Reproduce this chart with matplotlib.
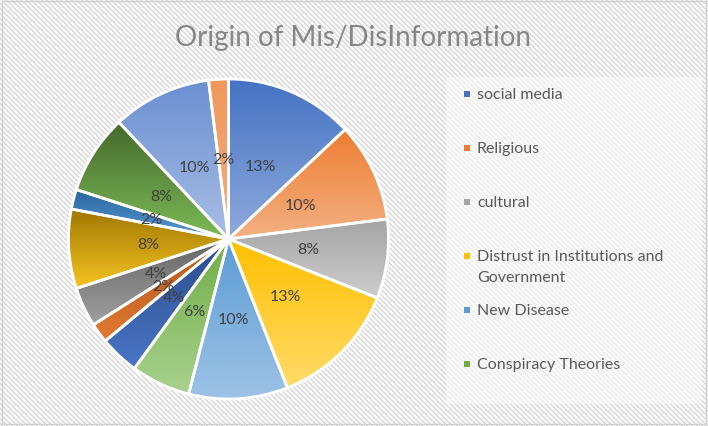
import numpy as np
import matplotlib
matplotlib.use("Agg")
import matplotlib.pyplot as plt
from matplotlib.patches import Rectangle
from matplotlib.colors import to_rgb

# ---- data ----
categories = ["social media", "Religious", "cultural",
              "Distrust in Institutions and\nGovernment", "New Disease",
              "Conspiracy Theories", "Other 7", "Other 8", "Other 9",
              "Other 10", "Other 11", "Other 12", "Other 13", "Other 14"]
values = [13, 10, 8, 13, 10, 6, 4, 2, 4, 8, 2, 8, 10, 2]
legend_shown = 6
title = "Origin of Mis/DisInformation"

# ---- styles (gradient top -> bottom) ----
top_colors = ["#4472C4", "#ED7D31", "#A5A5A5", "#FFC000", "#5B9BD5", "#70AD47",
              "#2A4C8C", "#B0561A", "#666666", "#9E7700", "#2A66A0", "#45692C",
              "#6A8FD0", "#F0975A"]
bot_colors = ["#8FAADC", "#F4B183", "#CDCDCD", "#FFDB69", "#9DC3E6", "#A9D18E",
              "#4A76C6", "#E27A32", "#A0A0A0", "#F5C322", "#5A9AD5", "#7DBB56",
              "#A9BEE6", "#F4B183"]

W, H = 708, 427
fig = plt.figure(figsize=(W / 100, H / 100), dpi=100)

# background stripe pattern
bg = fig.add_axes([0, 0, 1, 1], zorder=0)
yy, xx = np.mgrid[0:H, 0:W]
stripe = ((xx - yy) % 5) < 2
img = np.ones((H, W, 3)) * (248 / 255)
img[stripe] = 220 / 255
bg.imshow(img, interpolation="nearest", extent=[0, W, H, 0], aspect="auto")
bg.set_xlim(0, W)
bg.set_ylim(H, 0)
bg.axis("off")
# legend box (lighter)
bg.add_patch(Rectangle((446, 78), 256, 327, facecolor="white", alpha=0.5,
                       edgecolor="none"))
# outer border
bg.add_patch(Rectangle((1.5, 1.5), W - 4, H - 4, facecolor="none",
                       edgecolor="#d0d0d0", lw=1))

# title
fig.text(353 / W, 1 - 38 / H, title, ha="center", va="center",
         fontsize=20, color="#868686", family="Lato")

# pie
cx, cy, r = 228.5, 240, 160
ax = fig.add_axes([(cx - r) / W, 1 - (cy + r) / H, 2 * r / W, 2 * r / H], zorder=1)
wedges, _ = ax.pie(values, startangle=90, counterclock=False, radius=1,
                   wedgeprops=dict(facecolor="none", edgecolor="white",
                                   linewidth=2, zorder=3))
ax.set_xlim(-1, 1)
ax.set_ylim(-1, 1)
ax.set_aspect("equal")
ax.axis("off")

grad = np.linspace(0, 1, 256)[:, None]
for w, tc, bc in zip(wedges, top_colors, bot_colors):
    ext = w.get_path().get_extents()
    t = np.array(to_rgb(tc))
    b = np.array(to_rgb(bc))
    g = t[None, None, :] * (1 - grad[:, :, None]) + b[None, None, :] * grad[:, :, None]
    g = np.repeat(g, 2, axis=1)
    im = ax.imshow(g, extent=[ext.x0, ext.x1, ext.y0, ext.y1], origin="upper",
                   aspect="auto", zorder=1, interpolation="bilinear")
    im.set_clip_path(w)

ax.set_xlim(-1, 1)
ax.set_ylim(-1, 1)

total = float(sum(values))
ang = 90.0
for v in values:
    mid = np.deg2rad(ang - 360 * v / total / 2)
    ang -= 360 * v / total
    ax.text(0.5 * np.cos(mid), 0.5 * np.sin(mid), f"{v / total * 100:.0f}%",
            ha="center", va="center", fontsize=11.5, color="#404040",
            family="Lato", zorder=5)

# legend
leg_y = [95, 149, 203, 257, 311, 365]
for i in range(legend_shown):
    y = leg_y[i]
    bg.add_patch(Rectangle((464, y - 3), 6, 6, facecolor=top_colors[i],
                           edgecolor="none", zorder=3))
    for k, line in enumerate(categories[i].split("\n")):
        bg.text(477, y + 21 * k, line, ha="left", va="center",
                fontsize=11.5, color="#595959", family="Lato")

fig.savefig("out.png", dpi=100)
